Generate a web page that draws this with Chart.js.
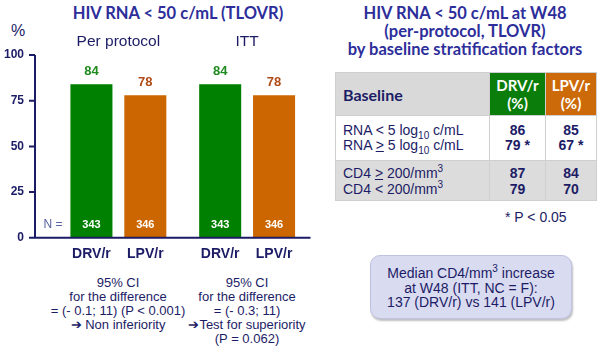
<!DOCTYPE html>
<html>
<head>
<meta charset="utf-8">
<script src="https://cdn.jsdelivr.net/npm/chart.js@4"></script>
<style>
  body { margin: 0; background: #fff; font-family: Arial, "Liberation Sans", sans-serif; color: #1c1c66; }
  #wrap { position: relative; width: 600px; height: 347px; overflow: hidden; }
  .abs { position: absolute; }
  .title { font-family: Lato, sans-serif; font-weight: bold; color: #2d2e9a; text-align: center; }
  .note { font-size: 13px; line-height: 14px; text-align: center; white-space: nowrap; }
  table { border-collapse: collapse; font-size: 14px; }
  td { border: 1px solid #cfcfcf; padding: 0; }
  .hd { font-family: Lato, sans-serif; font-weight: bold; }
  .num { text-align: center; font-weight: bold; }
  sub, sup { font-size: 10px; line-height: 0; }
</style>
</head>
<body>
<div id="wrap">
  <div class="abs title" style="left:58px; top:3px; width:240px; font-size:16.5px;">HIV RNA &lt; 50 c/mL (TLOVR)</div>
  <div class="abs" style="left:11px; top:22px; font-size:16px;">%</div>
  <canvas id="chart" class="abs" style="left:0; top:0;" width="320" height="275"></canvas>

  <div class="abs note" style="left:18px; top:276px; width:200px;">95% CI<br>for the difference<br>= (- 0.1; 11) (P &lt; 0.001)<br>&#10132; Non inferiority</div>
  <div class="abs note" style="left:147px; top:276px; width:200px;">95% CI<br>for the difference<br>= (- 0.3; 11)<br>&#10132;Test for superiority<br>(P = 0.062)</div>

  <div class="abs title" style="left:330px; top:4px; width:270px; font-size:16.5px; line-height:18px;">HIV RNA &lt; 50 c/mL at W48<br>(per-protocol, TLOVR)<br>by baseline stratification factors</div>

  <table class="abs" style="left:335px; top:72px; width:262px;">
    <tr style="height:43px;">
      <td class="hd" style="width:146px; background:#d9d9d9; color:#1c1c66; font-size:16px; padding-left:7px;">Baseline</td>
      <td class="hd" style="width:55px; background:#0a7d0a; color:#fff; text-align:center; font-size:15px; line-height:18px;">DRV/r<br>(%)</td>
      <td class="hd" style="background:#cc6a0a; color:#fff; text-align:center; font-size:15px; line-height:18px;">LPV/r<br>(%)</td>
    </tr>
    <tr style="height:45px; background:#fff;">
      <td style="padding-left:7px; line-height:15px;">RNA &lt; 5 log<sub>10</sub> c/mL<br>RNA <u>&gt;</u> 5 log<sub>10</sub> c/mL</td>
      <td class="num" style="line-height:15px;">86<br>79 *</td>
      <td class="num" style="line-height:15px;">85<br>67 *</td>
    </tr>
    <tr style="height:40px; background:#dcdcdc;">
      <td style="padding-left:7px; line-height:16px;">CD4 <u>&gt;</u> 200/mm<sup>3</sup><br>CD4 &lt; 200/mm<sup>3</sup></td>
      <td class="num" style="line-height:16px;">87<br>79</td>
      <td class="num" style="line-height:16px;">84<br>70</td>
    </tr>
  </table>
  <div class="abs" style="left:505px; top:209px; font-size:14px;">* P &lt; 0.05</div>

  <div class="abs note" style="left:370px; top:255px; width:200px; height:60px; border-radius:10px; background:#d9dbf1; border:1px solid #bfc2e2; box-shadow:1px 2px 2px rgba(0,0,0,0.25); font-size:14px; line-height:14.5px; padding-top:2px; display:flex; flex-direction:column; justify-content:center;">
    <div>Median CD4/mm<sup>3</sup> increase<br>at W48 (ITT, NC = F):<br>137 (DRV/r) vs 141 (LPV/r)</div>
  </div>
</div>

<script>
const groups = ['Per protocol', 'ITT'];
const arms = ['DRV/r', 'LPV/r'];
const drvValues = [84, 84];
const lpvValues = [78, 78];
const drvN = [343, 343];
const lpvN = [346, 346];
const yTicks = [0, 25, 50, 75, 100];

const navy = '#1c1c66';

// axes, bar labels, value labels and N counts
const decor = {
  id: 'decor',
  afterDraw(chart) {
    const { ctx, chartArea, scales: { y } } = chart;
    const ax = chartArea.left - 19;
    const y0 = y.getPixelForValue(0);
    ctx.save();
    ctx.strokeStyle = navy;
    ctx.lineWidth = 2;
    ctx.beginPath();
    ctx.moveTo(ax, y.getPixelForValue(yTicks[yTicks.length - 1]));
    ctx.lineTo(ax, y0);
    ctx.moveTo(ax - 6, y0);
    ctx.lineTo(chartArea.right - 1, y0);
    yTicks.forEach(t => {
      const py = y.getPixelForValue(t);
      ctx.moveTo(ax - 6, py);
      ctx.lineTo(ax, py);
    });
    ctx.stroke();

    ctx.textAlign = 'center';
    chart.data.datasets.forEach((ds, di) => {
      chart.getDatasetMeta(di).data.forEach((bar, i) => {
        ctx.textBaseline = 'bottom';
        ctx.fillStyle = ds.labelColor;
        ctx.font = 'bold 13px Arial';
        ctx.fillText(ds.data[i], bar.x, bar.y - 6);
        ctx.textBaseline = 'middle';
        ctx.fillStyle = '#fff';
        ctx.font = 'bold 11px Arial';
        ctx.fillText(ds.counts[i], bar.x, y0 - 13);
        ctx.fillStyle = navy;
        ctx.font = 'bold 14px Arial';
        ctx.fillText(ds.label, bar.x, y0 + 16);
      });
    });
    ctx.fillStyle = '#56629e';
    ctx.font = '12px Arial';
    ctx.fillText('N =', chartArea.left - 1, y0 - 13);
    ctx.restore();
  }
};

new Chart(document.getElementById('chart'), {
  type: 'bar',
  data: {
    labels: groups,
    datasets: [
      { label: arms[0], data: drvValues, counts: drvN, backgroundColor: '#008000', labelColor: '#1f8a1f' },
      { label: arms[1], data: lpvValues, counts: lpvN, backgroundColor: '#cc6600', labelColor: '#b04a18' }
    ]
  },
  options: {
    responsive: false,
    animation: false,
    devicePixelRatio: 1,
    categoryPercentage: 0.837,
    barPercentage: 0.78,
    layout: { padding: { left: 4, right: 8.5, top: 30, bottom: 30 } },
    plugins: { legend: { display: false }, tooltip: { enabled: false } },
    scales: {
      x: {
        position: 'top',
        grid: { display: false, drawTicks: false },
        border: { display: false },
        ticks: { color: navy, font: { family: 'Arial', size: 15.5 }, padding: 4 },
        afterFit(s) { s.height = 25; }
      },
      y: {
        min: 0,
        max: 100,
        grid: { display: false, drawTicks: false },
        border: { display: false },
        ticks: { stepSize: 25, color: navy, font: { family: 'Arial', size: 12, weight: 'bold' }, padding: 30 },
        afterFit(s) { s.width = 50; }
      }
    }
  },
  plugins: [decor]
});
</script>
</body>
</html>
